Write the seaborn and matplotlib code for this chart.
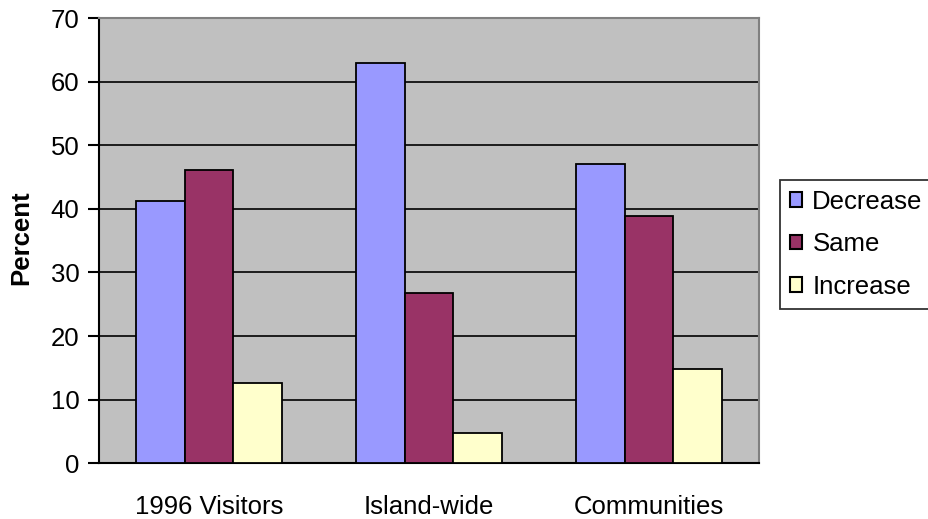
import matplotlib
matplotlib.use("Agg")
import matplotlib.pyplot as plt
import seaborn as sns
import pandas as pd
from matplotlib.ticker import FixedLocator, NullFormatter

# Survey responses: share of respondents per answer
groups = ["1996 Visitors", "Island-wide", "Communities"]
answers = ["Decrease", "Same", "Increase"]
decrease = [41.3, 63.0, 47.0]
same = [46.1, 26.8, 38.8]
increase = [12.7, 4.8, 14.9]
yticks = [0, 10, 20, 30, 40, 50, 60, 70]

colors = {"Decrease": "#9999FF", "Same": "#993366", "Increase": "#FFFFCC"}

rows = []
for series_name, values in zip(answers, [decrease, same, increase]):
    for g, v in zip(groups, values):
        rows.append({"group": g, "answer": series_name, "percent": v})
df = pd.DataFrame(rows)

sns.set_style("white")
plt.rcParams["font.family"] = ["Liberation Sans", "DejaVu Sans"]
plt.rcParams["text.color"] = "black"
plt.rcParams["xtick.color"] = "black"
plt.rcParams["ytick.color"] = "black"
plt.rcParams["axes.labelcolor"] = "black"

FS = 18.5

fig = plt.figure(figsize=(9.29, 5.19), dpi=100)
ax = fig.add_axes([99 / 929, 1 - 463.3 / 519, (759 - 99) / 929, (463.3 - 18) / 519])
ax.set_facecolor("#C0C0C0")

sns.barplot(data=df, x="group", y="percent", hue="answer", order=groups,
            hue_order=answers, palette=colors, width=0.664, gap=0,
            edgecolor="black", linewidth=1.3, saturation=1, ax=ax, zorder=3)

ax.set_ylim(0, 70)
ax.set_xlim(-0.5, 2.5)
ax.set_yticks(yticks)
ax.set_yticklabels([str(t) for t in yticks], fontsize=FS)
ax.yaxis.grid(True, color="black", linewidth=1.2, zorder=1)
ax.set_axisbelow(True)

# Category ticks sit on the boundaries between groups
ax.xaxis.set_major_locator(FixedLocator([0, 1, 2]))
ax.xaxis.set_minor_locator(FixedLocator([-0.5, 0.5, 1.5, 2.5]))
ax.xaxis.set_minor_formatter(NullFormatter())
ax.set_xticklabels(groups, fontsize=FS)
ax.tick_params(axis="x", which="major", length=0, pad=22.5)
ax.tick_params(axis="x", which="minor", length=8, width=1.5, color="black", direction="out")
ax.tick_params(axis="y", length=8, width=1.5, color="black", direction="out", pad=6, left=True)

ax.set_xlabel("")
ax.set_ylabel("Percent", fontsize=FS, fontweight="bold")
ax.yaxis.label.set_verticalalignment("center")
ax.yaxis.set_label_coords((21 - 99) / 660, 0.507)

for side in ["left", "bottom"]:
    ax.spines[side].set_color("black")
    ax.spines[side].set_linewidth(1.5)
for side in ["top", "right"]:
    ax.spines[side].set_color("#808080")
    ax.spines[side].set_linewidth(1.5)

handles, labels = ax.get_legend_handles_labels()
leg = ax.legend(handles, labels, loc="upper left",
                bbox_to_anchor=(780 / 929, 1 - 180 / 519), bbox_transform=fig.transFigure,
                fontsize=FS, frameon=True, fancybox=False, edgecolor="black",
                handlelength=0.48, handleheight=0.48, handletextpad=0.4,
                labelspacing=0.72, borderpad=0.38, borderaxespad=0)
leg.get_frame().set_linewidth(1.3)
for h in leg.legend_handles:
    h.set_edgecolor("black")
    h.set_linewidth(1.5)

fig.savefig("out.png", dpi=100)
